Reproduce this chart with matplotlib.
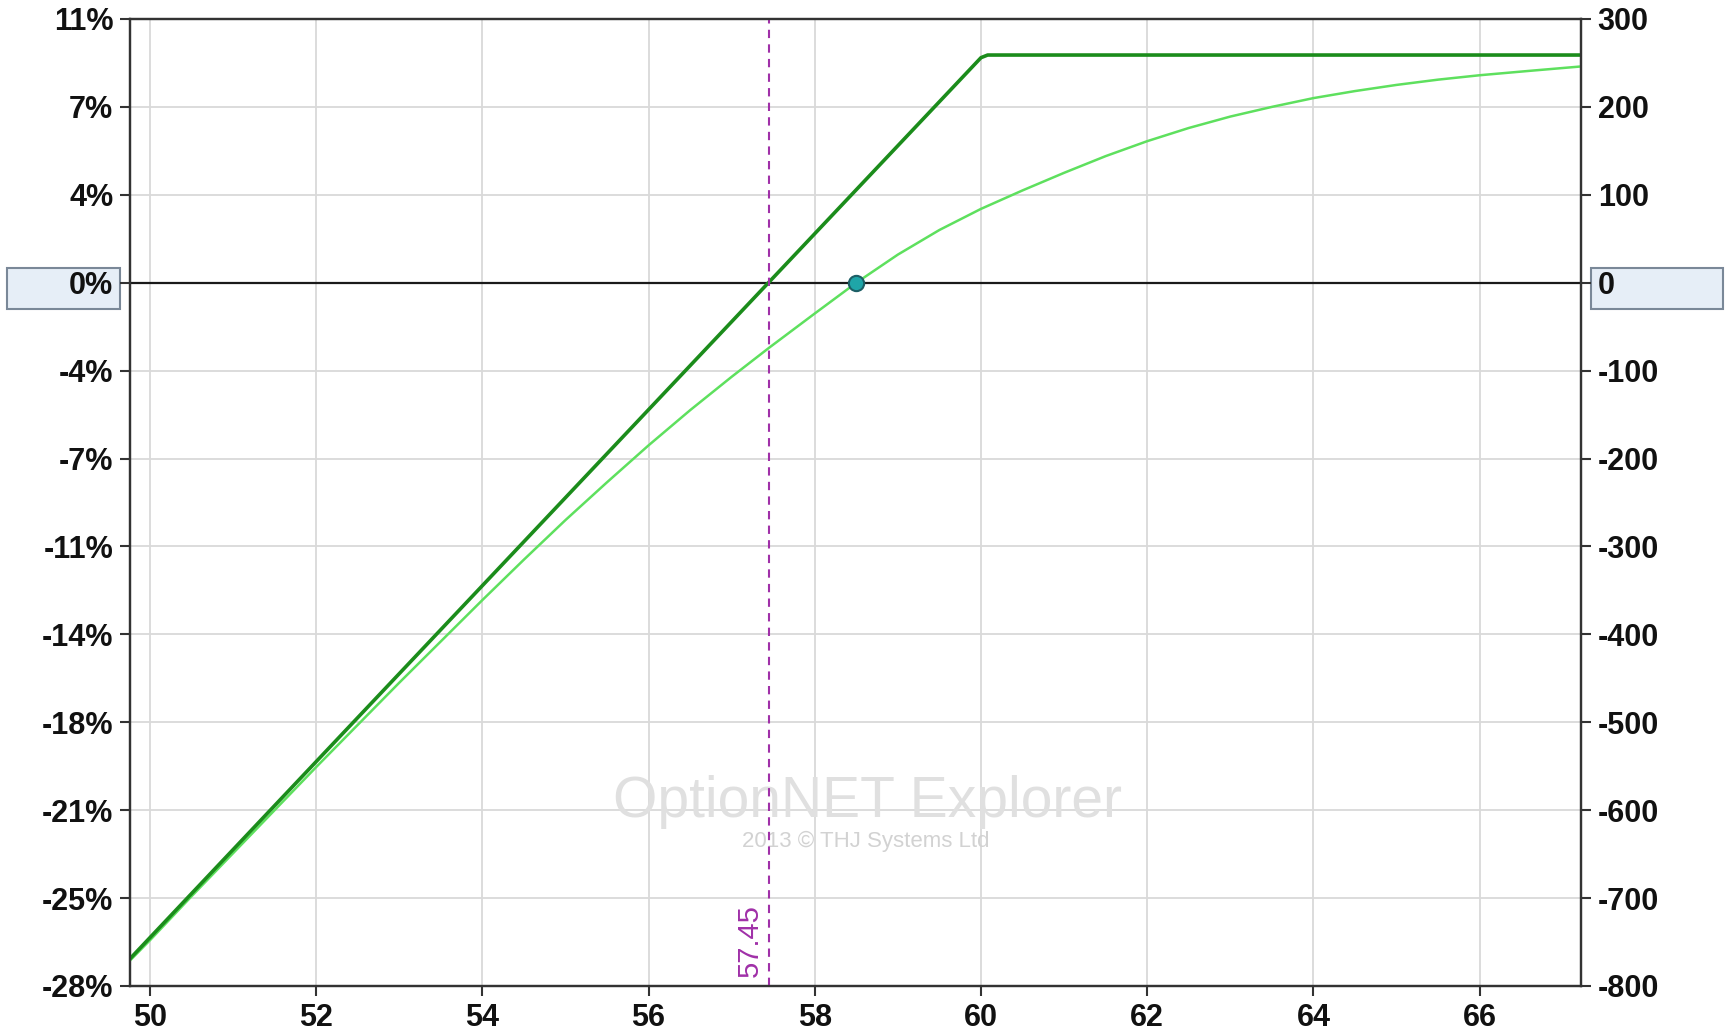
import matplotlib
matplotlib.use("Agg")
import matplotlib.pyplot as plt
import matplotlib.transforms as mtransforms
from matplotlib.patches import Rectangle

plt.rcParams['font.family'] = ['Liberation Sans', 'DejaVu Sans']

# expiration P&L (dark green)
exp_price = [49.76, 60.0, 60.08, 67.22]
exp_pnl = [-769, 256, 259, 259]

# current (T+0) P&L (light green)
now_price = [49.76, 50, 50.5, 51, 51.5, 52, 52.5, 53, 53.5, 54, 54.5, 55,
             55.5, 56, 56.5, 57, 57.45, 58, 58.5, 59, 59.5, 60, 60.5, 61,
             61.5, 62, 62.5, 63, 63.5, 64, 64.5, 65, 65.5, 66, 66.6, 67.22]
now_pnl = [-771, -748, -698, -649, -600, -551, -503, -455, -408, -361, -315,
           -270, -227, -185, -145, -107, -74, -35, 0, 32, 60, 84, 105, 125,
           144, 161, 176, 189, 200, 210, 218, 225, 231, 236, 241, 246]

breakeven = 57.45
marker_pt = (58.5, 0)

x_ticks = [50, 52, 54, 56, 58, 60, 62, 64, 66]
y_ticks = [300, 200, 100, 0, -100, -200, -300, -400, -500, -600, -700, -800]
pct_labels = ['11%', '7%', '4%', '0%', '-4%', '-7%', '-11%', '-14%', '-18%',
              '-21%', '-25%', '-28%']

fig = plt.figure(figsize=(17.29, 10.32), dpi=100)
ax = fig.add_axes([0.0752, 0.0446, 0.8392, 0.937])

grid_c = '#d9d9d9'
for xv in x_ticks:
    ax.axvline(xv, color=grid_c, lw=1.3, zorder=0)
for yv in y_ticks:
    ax.axhline(yv, color=grid_c, lw=1.3, zorder=0)
ax.axhline(0, color='#1a1a1a', lw=1.6, zorder=1)

ax.plot(now_price, now_pnl, color='#5ee05e', lw=1.8, zorder=3)
ax.plot(exp_price, exp_pnl, color='#1b8c1b', lw=2.6, zorder=4)

ax.axvline(breakeven, color='#a030a8', lw=1.5, ls=(0, (4, 3)), zorder=5)
trans = mtransforms.blended_transform_factory(ax.transData, ax.transAxes)
ax.text(breakeven - 0.06, 0.009, f'{breakeven:.2f}', transform=trans,
        rotation=90, ha='right', va='bottom', color='#a030a8', fontsize=21)

ax.plot(*marker_pt, 'o', ms=11, mfc='#1fa5a8', mec='#1d5f66', mew=1.5,
        zorder=6)

# watermark
ax.text(0.5086, 0.19, 'OptionNET Explorer', transform=ax.transAxes,
        ha='center', va='center', fontsize=41, color='#e0e0e0', zorder=2)
ax.text(0.507, 0.149, '2013 \u00a9 THJ Systems Ltd', transform=ax.transAxes,
        ha='center', va='center', fontsize=16, color='#d2d2d2', zorder=2)

ax.set_xlim(49.76, 67.22)
ax.set_ylim(-800, 300)
ax.set_xticks(x_ticks)
ax.set_xticklabels([str(v) for v in x_ticks])
ax.set_yticks(y_ticks)
ax.set_yticklabels(pct_labels)

ax2 = ax.twinx()
ax2.set_ylim(-800, 300)
ax2.set_yticks(y_ticks)
ax2.set_yticklabels([str(v) for v in y_ticks])

for a in (ax, ax2):
    a.tick_params(length=7, width=1.5, color='#333333', labelsize=22,
                  pad=5, labelcolor='#111111')
    for lab in a.get_xticklabels() + a.get_yticklabels():
        lab.set_fontweight('bold')
    for sp in a.spines.values():
        sp.set_color('#333333')
        sp.set_linewidth(1.6)
ax.tick_params(axis='x', pad=5)

# highlighted boxes behind the zero labels
box_kw = dict(transform=fig.transFigure, facecolor='#e6eef7',
              edgecolor='#7a8898', lw=1.5, zorder=-1)
fig.patches.append(Rectangle((0.0041, 0.7006), 0.0654, 0.0397, **box_kw))
fig.patches.append(Rectangle((0.9202, 0.7006), 0.0763, 0.0397, **box_kw))

fig.savefig('out.png', dpi=100)
